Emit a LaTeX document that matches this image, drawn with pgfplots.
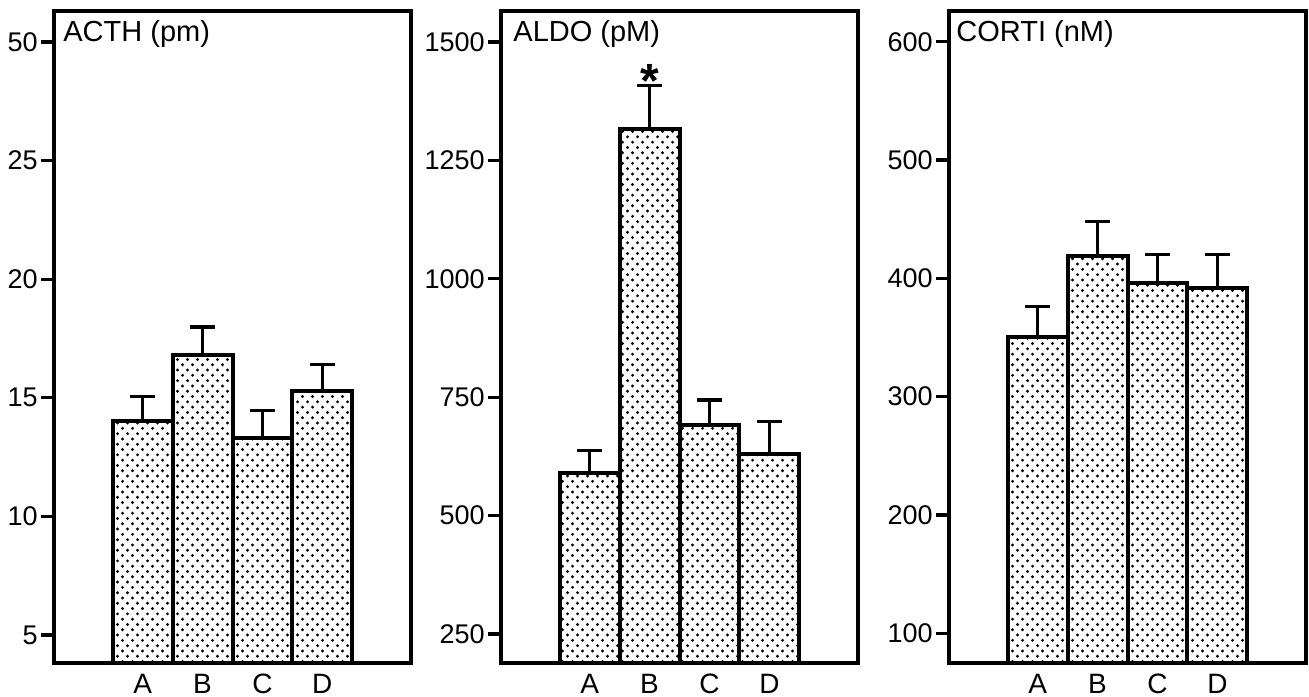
\documentclass[border=0pt]{standalone}
\usepackage{fontspec}
\setmainfont{Liberation Sans}
\usepackage{pgfplots}
\pgfplotsset{compat=1.18}
\usetikzlibrary{patterns}

% staggered dot screen used in the bars
\pgfdeclarepatternformonly{fdots}{\pgfpoint{-1pt}{-1pt}}{\pgfpoint{6pt}{6.3pt}}{\pgfpoint{5pt}{5.3pt}}{%
  \pgfpathcircle{\pgfpoint{1.25pt}{1.325pt}}{0.8pt}%
  \pgfpathcircle{\pgfpoint{3.75pt}{3.975pt}}{0.8pt}%
  \pgfusepath{fill}}

\tikzset{ttl/.style={anchor=base west, font=\fontsize{14.5}{15}\selectfont, inner sep=0pt}}

\pgfplotsset{
  panel/.style={
    scale only axis, width=178.5pt, height=326pt, anchor=south west,
    xmin=-0.48, xmax=5.48,
    xtick={1,2,3,4}, xticklabels={A,B,C,D},
    xtick style={draw=none},
    ytick pos=left, tick align=outside, major tick length=6.5pt,
    ytick style={line width=1.6pt, black},
    axis line style={line width=2pt},
    axis on top,
    tick label style={font=\fontsize{13.5}{14}\selectfont},
    yticklabel style={inner sep=1.5pt},
    xticklabel style={anchor=base, yshift=-8.5pt, font=\fontsize{14}{14}\selectfont},
  },
  bars/.style={
    ybar, bar width=1, draw=black, line width=2pt, fill=white,
    postaction={pattern=fdots},
    error bars/.cd, y dir=plus, y explicit, error mark=|,
    error bar style={line width=1.3pt, black},
    error mark options={line width=1.6pt, mark size=6.25pt, black},
  },
}

\begin{document}
\begin{tikzpicture}
\useasboundingbox (0,0) rectangle (654.5pt,348pt);

\begin{axis}[panel, at={(27pt,16.5pt)},
  ymin=3.82, ymax=31.31,
  ytick={5,10,15,20,25,30}, yticklabels={5,10,15,20,25,50}]
\addplot[bars] coordinates {
  (1,14.03) +- (0,1.01)
  (2,16.81) +- (0,1.18)
  (3,13.31) +- (0,1.14)
  (4,15.30) +- (0,1.09)};
\node[ttl] at ([xshift=4.5pt,yshift=-15.5pt]rel axis cs:0,1) {ACTH (pm)};
\end{axis}

\begin{axis}[panel, at={(250.5pt,16.5pt)},
  ymin=188.9, ymax=1565.3,
  ytick={250,500,750,1000,1250,1500}, yticklabels={250,500,750,1000,1250,1500}]
\addplot[bars] coordinates {
  (1,590) +- (0,48)
  (2,1317) +- (0,91)
  (3,691) +- (0,53)
  (4,630) +- (0,69)};
\node[ttl] at ([xshift=6pt,yshift=-15.5pt]rel axis cs:0,1) {ALDO (pM)};
\node[anchor=base, font=\fontsize{24}{24}\bfseries, inner sep=0pt] at (axis cs:2,1382) {*};
\end{axis}

\begin{axis}[panel, at={(474.5pt,16.5pt)},
  ymin=74.8, ymax=626,
  ytick={100,200,300,400,500,600}, yticklabels={100,200,300,400,500,600}]
\addplot[bars] coordinates {
  (1,350) +- (0,26.5)
  (2,419) +- (0,29)
  (3,396) +- (0,24)
  (4,392) +- (0,28)};
\node[ttl] at ([xshift=3.5pt,yshift=-15.5pt]rel axis cs:0,1) {CORTI (nM)};
\end{axis}
\end{tikzpicture}
\end{document}
